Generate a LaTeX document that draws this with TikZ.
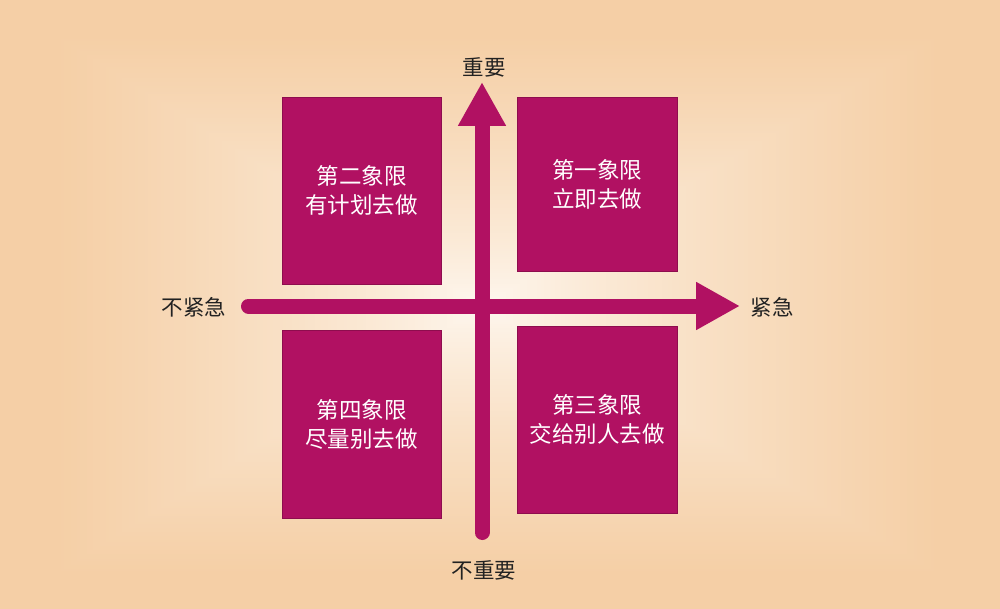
\documentclass[tikz,border=0pt]{standalone}
\usepackage{fontspec}
\newfontfamily\cjk{Noto Sans CJK SC}
\usetikzlibrary{arrows.meta}
\definecolor{bgin}{HTML}{FEF8F1}
\definecolor{bgout}{HTML}{F5CFA6}
\definecolor{mag}{HTML}{B11162}
\definecolor{magdark}{HTML}{8E0D4E}
\definecolor{lbl}{HTML}{222222}
\tikzset{
  quad/.style={rectangle, fill=mag, draw=magdark, line width=0.8pt, minimum width=159pt, minimum height=187pt, align=center, text=white, font=\cjk\fontsize{22.5}{29}\selectfont, inner sep=0pt},
  axlabel/.style={text=lbl, font=\cjk\fontsize{21.5}{26}\selectfont, inner sep=0pt},
  axis/.style={draw=mag, line width=15pt, line cap=round, -{Triangle[length=44pt,width=45pt]}}
}
\begin{document}
\begin{tikzpicture}[x=1pt,y=-1pt]
\useasboundingbox (0,0) rectangle (1000,609);
% rectangular gradient background
\fill[bgout] (0,0) rectangle (1000,609);
\foreach \i in {15,...,150}{
  \pgfmathsetmacro{\t}{\i/150}
  \pgfmathsetmacro{\s}{max(0,min(100,100*((1-\t)/0.88)^0.75))}
  \fill[bgout!\s!bgin] ({482*\t},{306*\t}) rectangle ({1000-518*\t},{609-303*\t});
}
% quadrant boxes
\node[quad] (q2) at (361.5,190.5) {第二象限\\有计划去做};
\node[quad, minimum width=160pt, minimum height=174pt] (q1) at (597,184) {第一象限\\立即去做};
\node[quad, minimum height=188pt] (q4) at (361.5,424) {第四象限\\尽量别去做};
\node[quad, minimum width=160pt] (q3) at (597,419.5) {第三象限\\交给别人去做};
% axes
\coordinate (vs) at (482,532.5);
\coordinate (vt) at (482,82);
\coordinate (hs) at (248.5,306);
\coordinate (ht) at (740,306);
\draw[axis] (vs) -- (vt);
\draw[axis] (hs) -- (ht);
% labels
\node[axlabel] (imp) at (484,67) {重要};
\node[axlabel] (nimp) at (484,570) {不重要};
\node[axlabel] (nurg) at (194,307) {不紧急};
\node[axlabel] (urg) at (772,307) {紧急};
\end{tikzpicture}
\end{document}
